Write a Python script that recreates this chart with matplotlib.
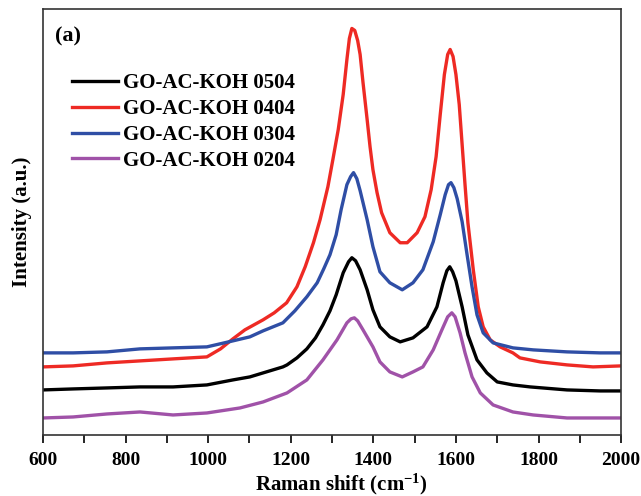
import matplotlib
matplotlib.use("Agg")
import matplotlib.pyplot as plt
from matplotlib.ticker import MultipleLocator

# values (intensity in arbitrary units)
wn_0504 = [600, 673, 755, 835, 915, 997, 1060, 1101, 1133, 1181, 1191, 1215, 1239, 1260, 1278,
           1295, 1310, 1327, 1340, 1348, 1357, 1368, 1385, 1399, 1416, 1440, 1465, 1496, 1530,
           1554, 1569, 1578, 1585, 1592, 1600, 1615, 1629, 1651, 1675, 1700, 1738, 1780, 1869,
           1949, 2000]
int_0504 = [45, 46, 47, 48, 48, 50, 55, 58, 62, 68, 70, 77, 86, 97, 110,
            124, 140, 162, 173, 177, 174, 165, 145, 125, 108, 98, 93, 97, 108,
            128, 152, 164, 168, 163, 154, 128, 100, 75, 62, 53, 50, 48, 45,
            44, 44]

wn_0404 = [600, 673, 755, 835, 915, 997, 1030, 1060, 1089, 1133, 1160, 1190, 1215, 1235, 1255,
           1271, 1290, 1302, 1315, 1327, 1336, 1342, 1348, 1355, 1362, 1368, 1375, 1385, 1392,
           1399, 1409, 1420, 1440, 1465, 1482, 1506, 1525, 1540, 1552, 1562, 1572, 1580, 1586,
           1593, 1600, 1608, 1615, 1622, 1629, 1642, 1654, 1666, 1683, 1707, 1738, 1755, 1804,
           1869, 1932, 2000]
int_0404 = [68, 69, 72, 74, 76, 78, 86, 96, 105, 115, 122, 132, 148, 168, 192,
            215, 248, 275, 305, 340, 375, 396, 406, 404, 394, 380, 352, 315, 288,
            265, 242, 222, 202, 192, 192, 202, 218, 245, 278, 320, 360, 380, 385,
            378, 360, 330, 290, 250, 212, 165, 128, 108, 95, 88, 82, 77, 73,
            70, 68, 69]

wn_0304 = [600, 673, 755, 835, 915, 997, 1060, 1101, 1133, 1181, 1210, 1239, 1264, 1280, 1295,
           1310, 1322, 1336, 1345, 1352, 1360, 1368, 1385, 1399, 1416, 1440, 1470, 1496, 1520,
           1545, 1562, 1574, 1582, 1588, 1595, 1603, 1615, 1627, 1639, 1651, 1666, 1690, 1738,
           1787, 1869, 1949, 2000]
int_0304 = [82, 82, 83, 86, 87, 88, 94, 98, 104, 112, 124, 138, 152, 166, 180,
            200, 225, 250, 258, 262, 256, 244, 215, 188, 163, 152, 145, 152, 165,
            193, 220, 240, 250, 252, 247, 236, 213, 180, 148, 120, 102, 92, 87,
            85, 83, 82, 82]

wn_0204 = [600, 673, 755, 835, 915, 997, 1077, 1133, 1191, 1239, 1278, 1312, 1336, 1346, 1354,
           1362, 1375, 1399, 1416, 1440, 1470, 1496, 1520, 1545, 1566, 1580, 1590, 1598, 1610,
           1622, 1639, 1659, 1690, 1738, 1787, 1869, 1949, 2000]
int_0204 = [17, 18, 21, 23, 20, 22, 27, 33, 42, 55, 75, 95, 112, 116, 117,
            114, 105, 88, 73, 63, 58, 63, 68, 85, 105, 118, 122, 118, 102,
            82, 58, 42, 30, 23, 20, 17, 17, 17]

labels = ["GO-AC-KOH 0504", "GO-AC-KOH 0404", "GO-AC-KOH 0304", "GO-AC-KOH 0204"]
colors = ["#000000", "#ee2a24", "#2f4ea5", "#a052a8"]

plt.rcParams["font.family"] = ["Liberation Serif", "DejaVu Serif"]
plt.rcParams["font.weight"] = "bold"
plt.rcParams["mathtext.fontset"] = "custom"
plt.rcParams["mathtext.rm"] = "Liberation Serif:bold"
plt.rcParams["mathtext.it"] = "Liberation Serif:bold"
plt.rcParams["mathtext.default"] = "rm"


def main():
    fig = plt.figure(figsize=(6.41, 4.96), dpi=100)
    ax = fig.add_axes([0.067, 0.123, 0.902, 0.858])

    series = [(wn_0504, int_0504), (wn_0404, int_0404), (wn_0304, int_0304), (wn_0204, int_0204)]
    for (x, y), lab, c in zip(series, labels, colors):
        ax.plot(x, y, color=c, lw=2.4, label=lab)

    ax.set_xlim(600, 2000)
    ax.set_ylim(0, 425)
    ax.xaxis.set_major_locator(MultipleLocator(200))
    ax.xaxis.set_minor_locator(MultipleLocator(100))
    ax.set_yticks([])
    ax.tick_params(axis="x", which="both", direction="out", width=1.2, labelsize=14, pad=6)
    ax.tick_params(axis="x", which="major", length=6)
    ax.tick_params(axis="x", which="minor", length=6)
    for s in ax.spines.values():
        s.set_linewidth(1.2)
        s.set_color("#333333")

    ax.set_xlabel("Raman shift (cm$^{-1}$)", fontsize=15, fontweight="bold")
    ax.xaxis.set_label_coords(0.517, -0.086, transform=ax.transAxes)
    ax.xaxis.label.set_va("top")
    ax.set_ylabel("Intensity (a.u.)", fontsize=15, fontweight="bold", labelpad=8)
    ax.text(0.02, 0.96, "(a)", transform=ax.transAxes, fontsize=16, fontweight="bold", va="top")

    ax.legend(loc="upper left", bbox_to_anchor=(0.05, 0.85), frameon=False, fontsize=15,
              handlelength=2.2, handletextpad=0.25, labelspacing=0.28,
              borderpad=0, borderaxespad=0)

    fig.savefig("out.png", dpi=100)


if __name__ == "__main__":
    main()
